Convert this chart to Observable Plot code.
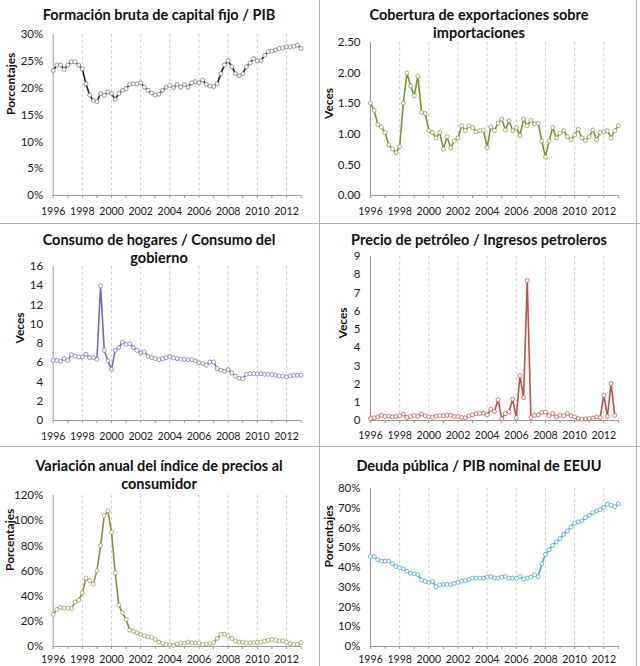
<!DOCTYPE html>
<html>
<head>
<meta charset="utf-8">
<script src="https://cdn.jsdelivr.net/npm/d3@7"></script>
<script src="https://cdn.jsdelivr.net/npm/@observablehq/plot@0.6"></script>
<style>
  html, body { margin: 0; padding: 0; background: #fff; }
  #wrap { position: relative; width: 640px; height: 666px; overflow: hidden; font-family: Lato, "Open Sans", sans-serif; }
  .panel { position: absolute; width: 320px; height: 222px; }
  .panel svg { position: absolute; left: 0; top: 0; }
  .panel svg g[aria-label="x-axis tick label"] { font-size: 10.6px; }
  .title { position: absolute; left: 0; width: 318px; text-align: center; font-weight: bold; font-size: 14.5px; line-height: 18px; color: #111; white-space: nowrap; }
  .sep { position: absolute; background: #b4b4b4; }
</style>
</head>
<body>
<div id="wrap"></div>
<script>
// ---- data (quarterly, first value = 1996 Q1) ----
const startYear = 1996;

const titles = [
  ["Formación bruta de capital fijo / PIB"],
  ["Cobertura de exportaciones sobre", "importaciones"],
  ["Consumo de hogares / Consumo del", "gobierno"],
  ["Precio de petróleo / Ingresos petroleros"],
  ["Variación anual del índice de precios al", "consumidor"],
  ["Deuda pública / PIB nominal de EEUU"]
];
const yLabels = ["Porcentajes", "Veces", "Veces", "Veces", "Porcentajes", "Porcentajes"];

const formacionBruta = [23.3,24.3,24.3,23.5,24.3,24.9,24.9,24.3,23.6,20.8,18.7,17.7,17.5,19.0,18.7,19.3,
  19.0,17.9,19.0,19.6,19.9,20.7,20.8,20.8,21.0,20.2,19.6,19.1,18.7,18.9,19.6,20.2,
  20.5,20.1,20.7,20.2,20.7,20.2,21.0,21.2,21.0,21.5,20.7,20.4,20.3,20.8,22.7,24.3,
  25.1,24.0,22.7,22.3,22.7,24.0,24.7,25.5,25.1,25.1,26.1,26.8,26.9,27.1,27.4,27.5,
  27.7,27.7,27.8,28.0,27.4];

const cobertura = [1.51,1.39,1.16,1.12,1.03,0.83,0.76,0.70,0.80,1.51,2.00,1.79,1.63,1.95,1.36,1.34,
  1.06,1.03,0.94,1.03,0.76,0.96,0.78,0.89,0.94,1.14,1.06,1.14,1.11,1.04,1.06,1.07,
  0.78,1.12,1.06,1.18,1.25,1.07,1.22,1.06,1.11,0.98,1.25,1.14,1.23,1.17,1.18,0.89,
  0.63,0.89,1.11,0.94,1.02,1.06,0.96,0.91,0.99,1.08,0.94,0.90,0.96,1.07,0.91,1.03,
  1.04,1.06,0.94,1.06,1.14];

const consumoHogares = [6.25,6.25,6.15,6.43,6.25,6.84,6.67,6.60,6.60,6.88,6.53,6.53,6.36,14.0,7.29,6.19,
  5.32,7.29,7.57,8.15,7.91,7.98,7.57,7.29,7.01,7.12,6.67,6.53,6.43,6.32,6.43,6.53,
  6.60,6.50,6.43,6.36,6.36,6.32,6.32,6.19,6.01,5.91,5.74,6.08,6.08,5.39,5.22,5.11,
  5.29,4.94,4.60,4.39,4.35,4.80,4.87,4.87,4.84,4.87,4.80,4.80,4.77,4.70,4.63,4.60,
  4.53,4.63,4.70,4.70,4.72];

const petroleo = [0.11,0.15,0.20,0.29,0.22,0.24,0.20,0.22,0.26,0.35,0.16,0.22,0.27,0.24,0.35,0.26,
  0.20,0.18,0.24,0.26,0.27,0.29,0.29,0.22,0.22,0.16,0.15,0.26,0.31,0.38,0.38,0.40,
  0.31,0.62,0.49,1.14,0.09,0.38,0.48,1.17,0.15,2.46,1.26,7.68,0.16,0.29,0.31,0.44,
  0.46,0.26,0.38,0.20,0.29,0.26,0.38,0.26,0.20,0.11,0.07,0.09,0.11,0.13,0.20,0.16,
  1.39,0.22,2.03,0.28];

const inflacion = [25.5,29.5,31.1,30.5,30.5,30.3,35.3,36.9,42.7,54.4,52.3,49.6,60.2,80.2,103.8,107.8,
  90.8,58.7,32.9,26.8,21.5,13.0,12.2,10.9,9.6,8.5,7.7,7.2,5.6,3.5,2.4,1.6,
  1.3,0.8,2.1,2.7,2.7,3.5,2.9,2.9,2.7,1.6,1.9,2.4,2.9,6.4,9.8,9.8,
  8.5,6.4,4.5,3.5,3.5,2.9,2.9,3.2,3.2,3.5,4.2,5.0,5.6,5.0,4.5,4.5,
  3.5,2.4,1.6,1.6,3.0];

const deudaEEUU = [45.6,45.6,43.9,43.2,43.2,43.2,41.9,40.5,39.8,39.3,38.1,37.1,36.8,36.4,33.7,32.9,
  32.5,32.9,30.3,31.2,31.4,31.4,31.4,32.0,32.5,33.1,33.4,33.9,34.6,34.6,34.6,34.6,
  35.1,35.4,34.7,34.6,35.1,35.4,34.6,34.6,34.6,35.4,34.2,34.6,35.1,36.3,35.4,41.9,
  46.6,49.0,51.2,52.9,54.6,56.8,58.5,60.5,62.5,63.1,63.6,65.3,66.4,67.8,68.6,69.3,
  70.5,72.0,71.5,70.8,72.2];

const xTickYears = [1996,1997,1998,1999,2000,2001,2002,2003,2004,2005,2006,2007,2008,2009,2010,2011,2012,2013];
const xTickLabels = ["1996","1998","2000","2002","2004","2006","2008","2010","2012"];
const gridYears = [1998,2000,2002,2004,2006,2008,2010,2012];

const yTicksP1 = [0,5,10,15,20,25,30];
const yTicksP2 = [0,0.5,1,1.5,2,2.5];
const yTicksP3 = [0,2,4,6,8,10,12,14,16];
const yTicksP4 = [0,1,2,3,4,5,6,7,8,9];
const yTicksP5 = [0,20,40,60,80,100,120];
const yTicksP6 = [0,10,20,30,40,50,60,70,80];

const colors = ["#1e1e1e", "#77933c", "#7f6aae", "#c0504d", "#8f8a4b", "#4bacc6"];
const markerColors = ["#808080", "#8aa54c", "#8b78b8", "#c8605d", "#a29d60", "#4bacc6"];

// ---- layout ----
const pct = d => d + "%";
const panels = [
  {left:0,   top:0,   values:formacionBruta, ticks:yTicksP1, fmt:pct, ml:52.7, mt:34, mb:27, titleTop:6,  labelDx:-42.2, pad:9},
  {left:320, top:0,   values:cobertura,      ticks:yTicksP2, fmt:d3.format(".2f"), ml:50, mt:42, mb:27, titleTop:6, labelDx:-41, pad:9},
  {left:0,   top:222, values:consumoHogares, ticks:yTicksP3, fmt:d => String(d), ml:52.7, mt:44, mb:24, titleTop:9, labelDx:-32.7, pad:9},
  {left:320, top:222, values:petroleo,       ticks:yTicksP4, fmt:d => String(d), ml:50, mt:34, mb:24, titleTop:9, labelDx:-27, pad:8},
  {left:0,   top:444, values:inflacion,      ticks:yTicksP5, fmt:pct, ml:52.7, mt:51, mb:20, titleTop:13, labelDx:-43, pad:6},
  {left:320, top:444, values:deudaEEUU,      ticks:yTicksP6, fmt:pct, ml:50, mt:44, mb:20, titleTop:13, labelDx:-41.5, pad:6}
];

const wrap = document.getElementById("wrap");
const W = 320, H = 222, pxPerYear = 14.58;

panels.forEach((p, k) => {
  const data = p.values.map((v, i) => ({t: startYear + i / 4, v}));
  const div = document.createElement("div");
  div.className = "panel";
  div.style.left = p.left + "px";
  div.style.top = p.top + "px";
  const chart = Plot.plot({
    width: W, height: H,
    marginLeft: p.ml, marginRight: W - p.ml - 17 * pxPerYear,
    marginTop: p.mt, marginBottom: p.mb,
    style: {fontFamily: "Lato, 'Open Sans', sans-serif", fontSize: "11.5px", color: "#1a1a1a", background: "transparent", overflow: "visible"},
    x: {domain: [1996, 2013]},
    y: {domain: [p.ticks[0], p.ticks[p.ticks.length - 1]]},
    marks: [
      Plot.ruleX(gridYears, {stroke: "#c4c4c4", strokeDasharray: "3,2.5", strokeWidth: 0.8}),
      Plot.axisX({ticks: xTickYears, tickFormat: d => xTickLabels.includes(String(d)) ? String(d) : "", tickSize: 3, tickPadding: p.pad, stroke: "#9a9a9a", label: null}),
      Plot.axisY({ticks: p.ticks, tickFormat: p.fmt, tickSize: 0, tickPadding: 10, label: null}),
      Plot.ruleY([p.ticks[0]], {stroke: "#9a9a9a"}),
      Plot.ruleX([1996], {stroke: "#9a9a9a"}),
      Plot.line(data, {x: "t", y: "v", stroke: colors[k], strokeWidth: 1.6}),
      Plot.dot(data, {x: "t", y: "v", r: 2, fill: "white", stroke: markerColors[k], strokeWidth: 0.8}),
      Plot.text([yLabels[k]], {frameAnchor: "left", rotate: -90, dx: p.labelDx, text: d => d, fontWeight: "bold", fontSize: 12, fill: "#111"})
    ]
  });
  div.appendChild(chart);
  const t = document.createElement("div");
  t.className = "title";
  t.style.top = p.titleTop + "px";
  t.innerHTML = titles[k].join("<br>");
  div.appendChild(t);
  wrap.appendChild(div);
});

// panel separators
[[319, 0, 1, 666], [636, 0, 1, 666], [0, 223, 640, 1], [0, 446, 640, 1]].forEach(([x, y, w, h]) => {
  const s = document.createElement("div");
  s.className = "sep";
  Object.assign(s.style, {left: x + "px", top: y + "px", width: w + "px", height: h + "px"});
  wrap.appendChild(s);
});
</script>
</body>
</html>
